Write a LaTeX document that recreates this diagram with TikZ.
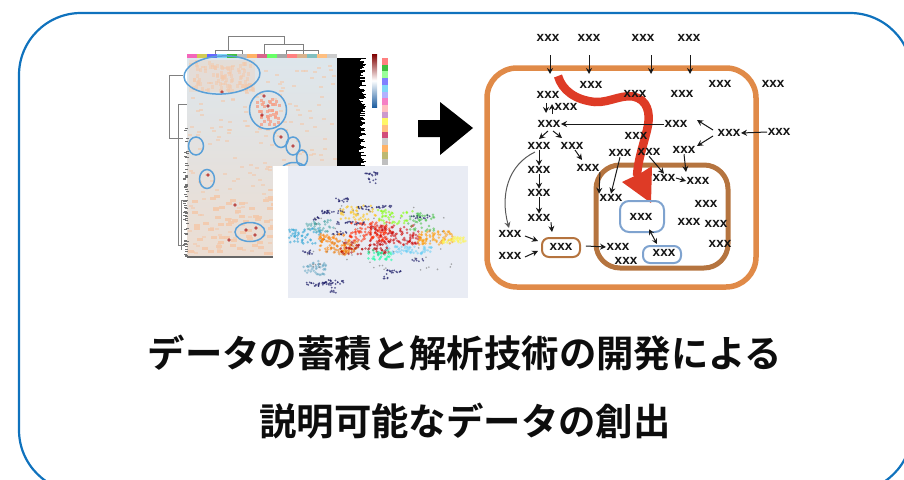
\documentclass[tikz,border=0pt]{standalone}
\usepackage{fontspec}
\setmainfont{Liberation Sans}
\newfontfamily\jpfont{Noto Sans CJK JP Bold}
\usetikzlibrary{arrows.meta}
\definecolor{frameblue}{HTML}{0F72BD}
\definecolor{cellorange}{HTML}{E08A48}
\definecolor{innerbrown}{HTML}{B5743F}
\definecolor{flowred}{HTML}{DE3B26}
\definecolor{boxblue}{HTML}{7FA3CF}
\definecolor{ringblue}{HTML}{5AA0D8}
\definecolor{heatbg}{HTML}{DDE6EC}
\definecolor{heatlow}{HTML}{EBDDD2}
\definecolor{speck}{HTML}{F3C9AC}
\definecolor{plotbg}{HTML}{E9ECF4}
\definecolor{navy}{HTML}{20206A}
\definecolor{barblue}{HTML}{1F5FA0}
\tikzset{
  x=1pt,y=-1pt,
  lab/.style={font=\bfseries\fontsize{13.5}{13.5}\selectfont,inner sep=0.5pt,text=black!92},
  arr/.style={-{Stealth[length=6pt,width=6pt]},line width=1pt,black!90},
  darr/.style={{Stealth[length=5.5pt,width=5.5pt]}-{Stealth[length=5.5pt,width=5.5pt]},line width=1pt,black!90},
  ring/.style={draw=ringblue,line width=1.5pt},
  dendro/.style={draw=black!50,line width=0.7pt},
  title/.style={font=\jpfont\fontsize{37.4}{37.4}\selectfont,inner sep=0pt,text=black!95},
  smallbox/.style={rounded corners=7pt,line width=2pt},
}
\begin{document}
\begin{tikzpicture}
\useasboundingbox (0,0) rectangle (904,479);
\begin{scope}
\clip (0,0) rectangle (904,479);
\draw[frameblue,line width=2.2pt,rounded corners=62pt] (19,13) rectangle (912,492);
\end{scope}
\pgfmathsetseed{1234}
% heat map
\shade[top color=heatbg,bottom color=heatlow] (187,58) rectangle (337,257);
\fill[speck,opacity=.3] (189,60) rectangle (255,92);
\foreach \i in {1,...,90}{\fill[speck,opacity=.55] ({190+62*rnd},{60+30*rnd}) rectangle +(3,4);}
\foreach \i in {1,...,220}{\fill[speck,opacity=.6] ({188+146*rnd},{62+192*rnd}) rectangle +(4,2);}
\foreach \i in {1,...,90}{\fill[speck,opacity=.9] ({188+146*rnd},{195+60*rnd}) rectangle +(6,3);}
\foreach \i in {1,...,40}{\fill[speck!80!red,opacity=.8] ({256+22*rnd},{98+26*rnd}) rectangle +(3,3);}
\foreach \x/\y in {264/96,268/106,262/115,281/137,293/146,246/230,256/228,208/175,235/205,222/92,229/240,255/235}{\fill[red!65!black,opacity=.65] (\x,\y) circle (1.8);}
\foreach \c [count=\n] in {magenta!60,yellow!60!gray,blue!60,cyan!50,green!50!gray,gray!50,orange!60,purple!60,green!60,gray!70,red!50,brown!60,teal!50,orange!50,gray!40}{
  \fill[\c] ({187+(\n-1)*10},54) rectangle +(10,4);}
\fill[black!60] (187,256) rectangle (337,258);
\foreach \i in {1,...,70}{\fill[black!55] ({183+3*rnd},{125+132*rnd}) rectangle +(3,1);}
% black block
\fill[black] (337,58) rectangle (358,167);
\foreach \i in {0,...,108}{\fill[black] (358,{58+\i}) rectangle +({1+7*rnd},1);}
% colour bar and strip
\shade[top color=red!50!black,bottom color=barblue,middle color=white] (372,54) rectangle (377,107);
\foreach \c [count=\n] in {red!50,green!50!gray,green!40,blue!50,cyan!50,blue!30,magenta!50,pink,violet!40,yellow!60,orange!50,purple!70,gray!40,orange!60,yellow!40!gray,gray!50}{
  \fill[\c] (382,{58+(\n-1)*6.7}) rectangle +(6,6.7);}
% dendrograms
\draw[dendro] (215,50)--(215,54) (242,50)--(242,54) (215,50)--(242,50) (228,50)--(228,36)--(284,36)--(284,44) (264,54)--(264,44)--(303,44)--(303,54) (286,50)--(318,50) (286,50)--(286,54) (318,50)--(318,54);
\draw[dendro] (183,75)--(169,75)--(169,138)--(183,138) (181,104)--(178,104)--(178,245) (178,245)--(185,245) (181,104)--(187,104) (185,200)--(181,200)--(181,250);
% rings
\draw[ring,rotate around={3:(222,75)}] (222,75) ellipse [x radius=38pt,y radius=19pt];
\draw[ring] (268,110) ellipse [x radius=18.5pt,y radius=19pt];
\draw[ring] (281,138) ellipse [x radius=7.5pt,y radius=9.5pt];
\draw[ring] (293,146) ellipse [x radius=7pt,y radius=9pt];
\draw[ring] (302,158) ellipse [x radius=5.5pt,y radius=8pt];
\draw[ring] (196,146) ellipse [x radius=7.5pt,y radius=9pt];
\draw[ring] (207,179) ellipse [x radius=7.5pt,y radius=9.5pt];
\draw[ring] (250,232) ellipse [x radius=15pt,y radius=9.5pt];
\draw[ring] (294,172) ellipse [x radius=14pt,y radius=9.5pt];
% scatter plot
\fill[white] (273,166) rectangle (470,307);
\fill[plotbg] (288,166) rectangle (468,298);
\foreach \cx/\cy/\rx/\ry/\c/\N in {
 305/236/16/8/cyan!70!teal/50, 320/226/18/6/teal!70/35,
 335/243/16/9/orange/80, 345/248/14/7/orange!70!brown/45,
 370/232/22/10/red!70!orange/110, 395/235/25/10/red!80!black/110,
 365/248/25/6/red!70!black/55, 360/213/20/8/orange!50!yellow/45,
 395/217/18/7/green!50!yellow/40, 420/222/14/9/green!50!gray/40,
 435/238/18/7/orange!80!yellow/70, 455/240/12/3/yellow!70/35,
 410/250/25/4/cyan!60/55, 380/255/12/5/green!40!cyan/30,
 315/268/12/7/cyan!50!gray/40}{
 \foreach \i in {1,...,\N}{\fill[\c,opacity=.55] ({\cx+\rx*rand},{\cy+\ry*rand}) circle (1.4);}
}
\foreach \cx/\cy/\rx/\ry/\N in {
 372/178/4/6/12, 372/174/8/1/10, 343/200/7/2/14, 333/212/12/1.5/22, 365/208/8/2/14, 384/207/8/1.5/14,
 350/223/14/1.5/18, 340/233/8/1.5/12, 320/284/14/2/28, 335/282/12/2/18, 333/290/3/3/8, 395/271/8/2/14,
 386/277/3/3/6, 307/252/6/2/10, 420/217/10/2/12, 418/260/6/1.5/8, 316/220/3/3/8}{
 \foreach \i in {1,...,\N}{\fill[navy,opacity=.7] ({\cx+\rx*rand},{\cy+\ry*rand}) circle (1);}
}
\foreach \i in {1,...,60}{\fill[black!55,opacity=.6] ({305+150*rnd},{205+65*rnd}) circle (.9);}
% block arrow
\fill[black] (418,120)--(440,120)--(440,102)--(473,128)--(440,155)--(440,137)--(418,137)--cycle;
% containers
\draw[cellorange,line width=5.5pt,rounded corners=30pt] (487,68) rectangle (756,287);
\draw[innerbrown,line width=5pt,rounded corners=24pt] (596,165) rectangle (728,268);
% flow arrow
\draw[flowred,line width=8.5pt] (558,76) .. controls (562,90) and (575,100) .. (595,102) .. controls (610,103) and (625,92) .. (638,98) .. controls (650,104) and (650,118) .. (647,130) .. controls (642,150) and (638,160) .. (637,176);
\fill[flowred] (622,182)--(641,173)--(652,166)--(651,203)--cycle;
% labels
\foreach \n/\x/\y in {a1/548/38,a2/589/38,a3/643/38,a4/689/38,
 b1/591/85,b2/720/84,b3/773/84,b4/548/95,b5/635/94,b6/682/94,b7/566/107,
 c1/549/124,c2/676/124,c3/729/133,c4/779/132,c5/636/136,
 d1/539/146,d2/572/146,d3/620/153,d4/649/152,d5/684/150,
 e1/539/170,e2/588/168,e3/539/193,e4/539/218,e5/510/234,e6/510/256,
 f1/611/198,f2/664/178,f3/698/181,f4/706/204,f5/689/222,f6/716/224,f7/720/244,
 g1/618/247,g2/626/261}{
 \node[lab] (\n) at (\x,\y) {xxx};
}
\draw[innerbrown,smallbox] (542,238) rectangle (580,257);
\node[lab] (brownbox) at (561,247) {xxx};
\draw[boxblue,smallbox,rounded corners=9pt] (620,201) rectangle (664,232);
\node[lab] (bluebig) at (641,217) {xxx};
\draw[boxblue,smallbox] (643,246) rectangle (681,263);
\node[lab] (bluesmall) at (664,253) {xxx};
% free ends
\coordinate (t1) at (550,74);\coordinate (s1) at (550,55);
\coordinate (t2) at (589,74);\coordinate (s2) at (589,55);
\coordinate (t3) at (651,74);\coordinate (s3) at (651,55);
\coordinate (t4) at (690,74);\coordinate (s4) at (690,55);
\coordinate (u1) at (546,113);\coordinate (u0) at (546,103);
\coordinate (v1) at (552,104);\coordinate (v0) at (552,114);
\coordinate (w1) at (697,120);\coordinate (w2) at (697,146);
\coordinate (cs1) at (713,130);\coordinate (cs2) at (713,136);
\coordinate (bb1) at (538,241);\coordinate (bb2) at (538,251);
\coordinate (h1) at (552,232);
\foreach \a/\b in {s1/t1,s2/t2,s3/t3,s4/t4,u0/u1,v0/v1,cs1/w1,cs2/w2}{\draw[arr] (\a)--(\b);}
\draw[arr] (c2.west)--(c1.east);
\draw[arr] (c4.west)--(c3.east);
\draw[arr] (548,131)--(539,139);
\draw[arr] (553,131)--(562,138);
\draw[arr] (d1.south)--(e1.north);
\draw[arr] (575,150)--(582,160);
\draw[arr,black!65] (535,152) .. controls (508,165) and (500,195) .. (509,228);
\draw[arr] (e1.south)--(e3.north);
\draw[arr] (e3.south)--(e4.north);
\draw[arr] (e4.south east)--(h1);
\draw[arr] (e5.east)++(3,2)--(bb1);
\draw[arr] (e6.east)++(3,1)--(bb2);
\draw[arr] (brownbox.east)++(13,-1)--(g1.west);
\draw[darr] (bluebig.south)++(8,8)--(657,244);
\draw[arr] (e2.south east)--(f1.north west);
\draw[arr] (d3.south)--(f1.north);
\draw[arr] (d4.south)--(f2.north);
\draw[arr] (d5.south)--(686,172);
\draw[arr] (f2.east)--(f3.west);
% title
\node[title] (line1) at (465,353) {データの蓄積と解析技術の開発による};
\node[title] (line2) at (465,421) {説明可能なデータの創出};
\end{tikzpicture}
\end{document}
